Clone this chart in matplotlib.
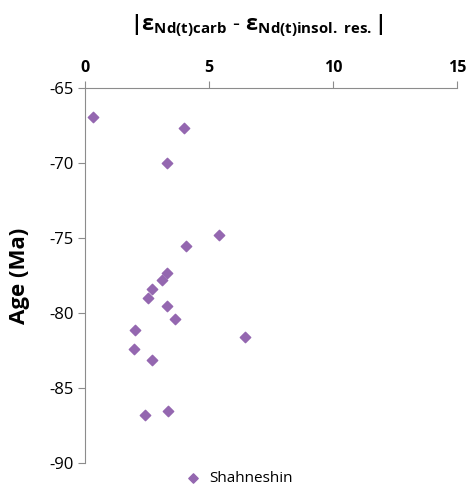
import matplotlib
matplotlib.use("Agg")
import matplotlib.pyplot as plt

plt.rcParams['font.family'] = ['Open Sans', 'DejaVu Sans']
plt.rcParams['mathtext.fontset'] = 'custom'
plt.rcParams['mathtext.rm'] = 'Open Sans'
plt.rcParams['mathtext.bf'] = 'Open Sans:bold'
plt.rcParams['mathtext.it'] = 'Open Sans:italic'
plt.rcParams['axes.unicode_minus'] = False

# |eNd(t) carb - eNd(t) insol. res.| against age, Shahneshin section
eps_diff = [0.32, 3.99, 3.30, 5.40, 4.07, 3.29, 3.12, 2.71, 2.54, 3.32,
            3.62, 2.02, 6.44, 1.96, 2.69, 3.35, 2.42]
age = [-66.95, -67.65, -70.0, -74.8, -75.5, -77.3, -77.8, -78.4, -79.0, -79.5,
       -80.4, -81.1, -81.6, -82.4, -83.1, -86.5, -86.8]

purple = '#9467b0'
grey = '#8c8c8c'

fig = plt.figure(figsize=(4.70, 4.91), dpi=100)
ax = fig.add_axes([0.181, 0.057, 0.791, 0.7637])

ax.scatter(eps_diff, age, marker='D', s=28, color=purple, label='Shahneshin', zorder=3)

ax.set_xlim(0, 15)
ax.set_ylim(-90, -65)
ax.set_xticks([0, 5, 10, 15])
ax.set_yticks([-65, -70, -75, -80, -85, -90])
ax.xaxis.tick_top()
ax.tick_params(axis='x', direction='out', length=5, color=grey, labelsize=11.5, pad=4)
ax.tick_params(axis='y', direction='out', length=5, color=grey, labelsize=12, pad=3)
for lab in ax.get_xticklabels():
    lab.set_fontweight('bold')

ax.spines['right'].set_visible(False)
ax.spines['bottom'].set_visible(False)
ax.spines['left'].set_color(grey)
ax.spines['top'].set_color(grey)

ax.set_ylabel('Age (Ma)', fontsize=16, fontweight='bold', labelpad=14)

fig.text(0.547, 0.947,
         r'$\mathbf{|ε_{Nd(t)carb}\ \text{-}\ ε_{Nd(t)insol.\ res.}|}$',
         ha='center', va='center', fontsize=15.5)

fig.legend(loc='lower center', bbox_to_anchor=(0.5, -0.018), frameon=False,
           fontsize=11, handletextpad=0.05, markerscale=0.9)

fig.savefig('out.png', dpi=100)
